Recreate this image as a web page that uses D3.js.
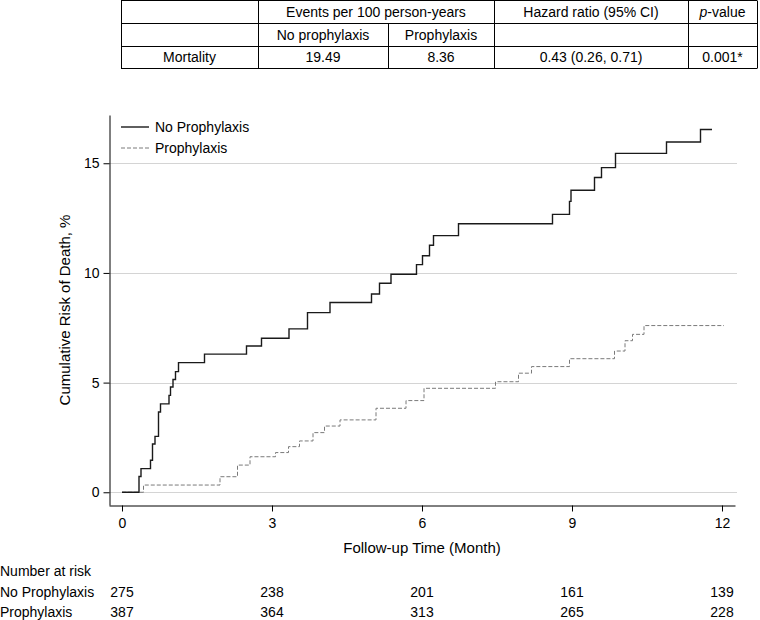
<!DOCTYPE html>
<html><head><meta charset="utf-8">
<script src="https://cdn.jsdelivr.net/npm/d3@7"></script>
<style>
html,body{margin:0;padding:0;background:#fff;}
svg{display:block;font-family:"Liberation Sans",Arial,sans-serif;}
</style></head>
<body>
<svg id="c" width="760" height="620"></svg>
<script>
// ---- data ----
const seriesNames = ["No Prophylaxis", "Prophylaxis"];
const noProphTime = [0,0.34,0.38,0.57,0.61,0.66,0.73,0.77,0.94,0.97,1.02,1.07,1.13,1.65,2.49,2.79,3.34,3.71,4.16,4.99,5.15,5.38,5.89,6.01,6.15,6.23,6.73,8.61,8.95,8.98,9.45,9.59,9.87,10.89,11.57,11.8];
const noProphRisk = [0,0.72,1.08,1.46,2.2,2.55,3.66,4.03,4.42,4.8,5.14,5.5,5.91,6.3,6.67,7.02,7.45,8.19,8.65,9.04,9.53,9.94,10.38,10.78,11.26,11.7,12.24,12.67,13.26,13.77,14.35,14.8,15.45,15.97,16.54,16.54];
const prophTime = [0,0.43,1.96,2.31,2.56,3.07,3.33,3.55,3.82,4.05,4.36,5.08,5.68,6.04,7.47,7.93,8.19,8.95,9.85,10.06,10.21,10.44,12.04];
const prophRisk = [0,0.33,0.71,1.24,1.62,1.81,2.08,2.34,2.72,3.02,3.3,3.83,4.18,4.74,5.04,5.43,5.73,6.09,6.44,6.91,7.2,7.6,7.6];
const xTicks = [0,3,6,9,12];
const yTicks = [0,5,10,15];
const atRiskTimes = [0,3,6,9,12];
const atRiskNo = [275,238,201,161,139];
const atRiskProph = [387,364,313,265,228];
const tableCols = ["", "Events per 100 person-years", "Hazard ratio (95% CI)", "p-value"];
const tableSub = ["", "No prophylaxis", "Prophylaxis", "", ""];
const tableRow = ["Mortality", "19.49", "8.36", "0.43 (0.26, 0.71)", "0.001*"];

const svg = d3.select("#c");
const FS = 14;

// ---- table ----
const cx = [121, 258, 388, 494, 688, 757];
const ry = [0.5, 23.5, 46.5, 68.5];
const tg = svg.append("g").attr("stroke", "#000").attr("stroke-width", 1);
// horizontal lines
tg.selectAll("line.h").data(ry).join("line")
  .attr("x1", cx[0]).attr("x2", cx[5]).attr("y1", d => d).attr("y2", d => d);
// vertical lines
const vlines = [
  {x: cx[0], y1: ry[0], y2: ry[3]},
  {x: cx[1], y1: ry[0], y2: ry[3]},
  {x: cx[2], y1: ry[1], y2: ry[3]},
  {x: cx[3], y1: ry[0], y2: ry[3]},
  {x: cx[4], y1: ry[0], y2: ry[3]},
  {x: cx[5], y1: ry[0], y2: ry[3]}
];
tg.selectAll("line.v").data(vlines).join("line")
  .attr("x1", d => Math.round(d.x) + 0.5).attr("x2", d => Math.round(d.x) + 0.5)
  .attr("y1", d => d.y1).attr("y2", d => d.y2);
const mid = (a, b) => (a + b) / 2;
const headerCells = [
  {t: tableCols[1], x: mid(cx[1], cx[3])},
  {t: tableCols[2], x: mid(cx[3], cx[4])}
];
svg.selectAll("text.th").data(headerCells).join("text")
  .attr("x", d => d.x).attr("y", mid(ry[0], ry[1])).attr("dy", "0.35em")
  .attr("text-anchor", "middle").attr("font-size", FS).text(d => d.t);
const pv = svg.append("text").attr("x", mid(cx[4], cx[5])).attr("y", mid(ry[0], ry[1])).attr("dy", "0.35em")
  .attr("text-anchor", "middle").attr("font-size", FS);
pv.append("tspan").attr("font-style", "italic").text(tableCols[3].slice(0, 1));
pv.append("tspan").text(tableCols[3].slice(1));
svg.selectAll("text.ts").data(tableSub).join("text")
  .attr("x", (d, i) => mid(cx[i], cx[i + 1])).attr("y", mid(ry[1], ry[2])).attr("dy", "0.35em")
  .attr("text-anchor", "middle").attr("font-size", FS).text(d => d);
svg.selectAll("text.tr").data(tableRow).join("text")
  .attr("x", (d, i) => mid(cx[i], cx[i + 1])).attr("y", mid(ry[2], ry[3])).attr("dy", "0.35em")
  .attr("text-anchor", "middle").attr("font-size", FS).text(d => d);

// ---- plot ----
const x = d3.scaleLinear().domain([-0.26, 12.26]).range([109, 735]);
const y = d3.scaleLinear().domain([-0.58, 17.2]).range([505, 115]);

// grid
svg.append("g").selectAll("line").data(yTicks).join("line")
  .attr("x1", 109).attr("x2", 737)
  .attr("y1", d => Math.round(y(d)) + 0.5).attr("y2", d => Math.round(y(d)) + 0.5)
  .attr("stroke", "#d4d4d4").attr("stroke-width", 1);

// axes
const xAxis = svg.append("g").attr("transform", "translate(0,505.5)")
  .call(d3.axisBottom(x).tickValues(xTicks).tickSize(6).tickSizeOuter(0).tickPadding(7).tickFormat(d3.format("d")));
const yAxis = svg.append("g").attr("transform", "translate(109.5,0)")
  .call(d3.axisLeft(y).tickValues(yTicks).tickSize(6).tickSizeOuter(0).tickPadding(4).tickFormat(d3.format("d")));
[xAxis, yAxis].forEach(a => {
  a.selectAll("text").attr("font-size", FS).attr("fill", "#000").attr("font-family", "Liberation Sans, Arial, sans-serif");
  a.selectAll("line,path").attr("stroke", "#000");
});

// curves
const line = d3.line().x(d => x(d[0])).y(d => y(d[1])).curve(d3.curveStepAfter);
const noData = noProphTime.map((t, i) => [t, noProphRisk[i]]);
const prData = prophTime.map((t, i) => [t, prophRisk[i]]);
svg.append("path").datum(prData).attr("d", line).attr("fill", "none")
  .attr("stroke", "#7a7a7a").attr("stroke-width", 1).attr("stroke-dasharray", "4,2");
svg.append("path").datum(noData).attr("d", line).attr("fill", "none")
  .attr("stroke", "#1a1a1a").attr("stroke-width", 1.4);

// legend
const lg = svg.append("g");
const legY = [127, 148];
lg.selectAll("line").data(seriesNames).join("line")
  .attr("x1", 121).attr("x2", 149).attr("y1", (d, i) => legY[i]).attr("y2", (d, i) => legY[i])
  .attr("stroke", (d, i) => i ? "#7a7a7a" : "#1a1a1a")
  .attr("stroke-width", (d, i) => i ? 1 : 1.4)
  .attr("stroke-dasharray", (d, i) => i ? "4,2" : null);
lg.selectAll("text").data(seriesNames).join("text")
  .attr("x", 155).attr("y", (d, i) => legY[i]).attr("dy", "0.35em")
  .attr("font-size", FS).text(d => d);

// axis titles
svg.append("text").attr("x", x(6)).attr("y", 548).attr("dy", "0.35em")
  .attr("text-anchor", "middle").attr("font-size", 15).text("Follow-up Time (Month)");
svg.append("text").attr("transform", `translate(65,${mid(115, 505)}) rotate(-90)`).attr("dy", "0.35em")
  .attr("text-anchor", "middle").attr("font-size", 15).text("Cumulative Risk of Death, %");

// number at risk
svg.append("text").attr("x", 0).attr("y", 571).attr("dy", "0.35em").attr("font-size", FS).text("Number at risk");
const riskRows = [{name: seriesNames[0], vals: atRiskNo, yy: 592}, {name: seriesNames[1], vals: atRiskProph, yy: 612.5}];
riskRows.forEach(r => {
  svg.append("text").attr("x", 0).attr("y", r.yy).attr("dy", "0.35em").attr("font-size", FS).text(r.name);
  svg.append("g").selectAll("text").data(r.vals).join("text")
    .attr("x", (d, i) => x(atRiskTimes[i])).attr("y", r.yy).attr("dy", "0.35em")
    .attr("text-anchor", "middle").attr("font-size", FS).text(d => d);
});
</script>
</body></html>
